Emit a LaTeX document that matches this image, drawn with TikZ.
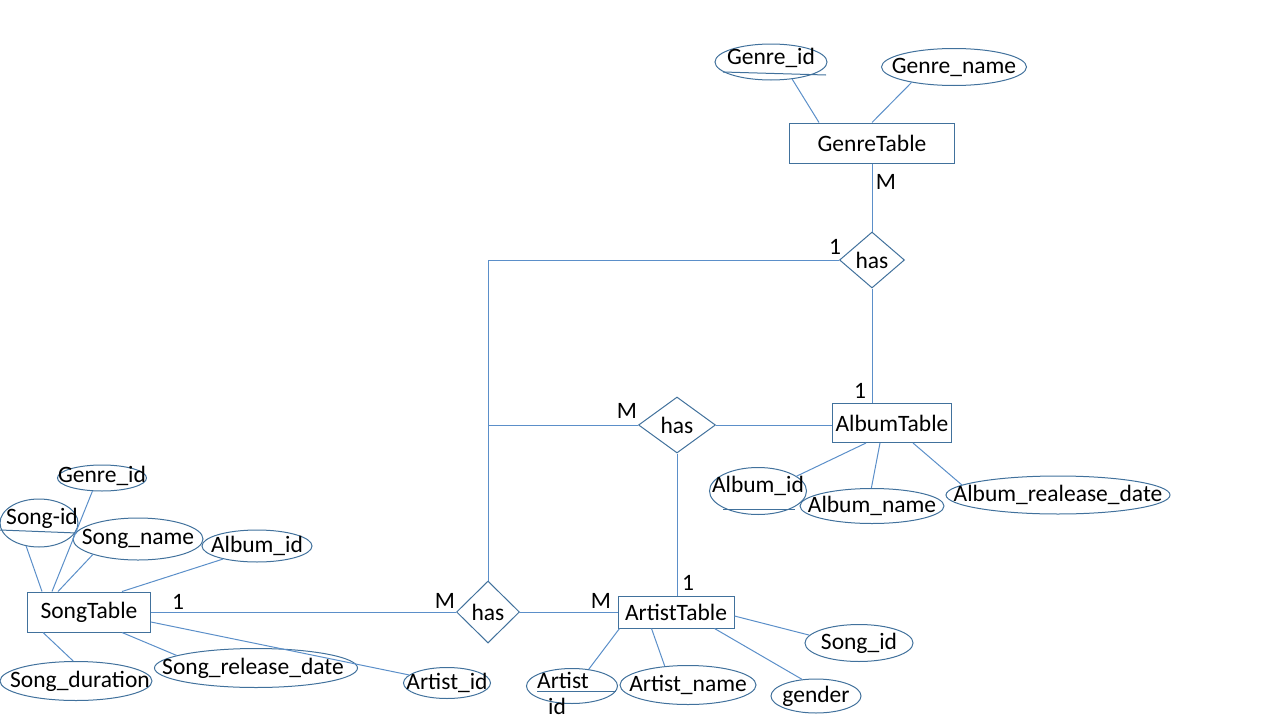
\documentclass[tikz,border=0pt]{standalone}
\usepackage{fontspec}
\setmainfont{Carlito}
\usetikzlibrary{shapes.geometric,calc}
\definecolor{lineblue}{HTML}{5B8FC9}
\definecolor{shapeblue}{HTML}{41719C}
\begin{document}
\begin{tikzpicture}[x=1pt,y=-1pt,
  every node/.style={font=\fontsize{23.5}{28}\selectfont, text=black},
  ent/.style={draw=shapeblue, line width=1pt, rectangle, inner sep=0pt},
  attr/.style={draw=shapeblue, line width=1pt, ellipse, inner sep=0pt},
  rel/.style={draw=shapeblue, line width=1pt, diamond, inner sep=0pt},
  conn/.style={draw=lineblue, line width=1pt},
  card/.style={inner sep=0pt}]
\useasboundingbox (0,0) rectangle (1280,720);

% ---------- entities ----------
\node[ent, minimum width=165pt, minimum height=40pt] (gt) at (872,143) {GenreTable};
\node[ent, minimum width=119pt, minimum height=39pt] (alt) at (892,423) {AlbumTable};
\node[ent, minimum width=116pt, minimum height=32pt] (at) at (676,612) {ArtistTable};
\node[ent, minimum width=123pt, minimum height=40pt] (st) at (89,612) {SongTable};

% ---------- relationships ----------
\node[rel, minimum width=65pt, minimum height=56pt] (h1) at (872,260) {has};
\node[rel, minimum width=77pt, minimum height=56pt] (h2) at (677,425) {has};
\node[rel, minimum width=63pt, minimum height=62pt] (h3) at (488,612) {has};

% ---------- attributes ----------
\node[attr, minimum width=112pt, minimum height=36pt, label={[yshift=4pt]center:Genre\_id}] (gid) at (771,62) {};
\node[attr, minimum width=145pt, minimum height=37pt, label={center:Genre\_name}] (gn) at (954,67) {};

\node[attr, minimum width=97pt, minimum height=47pt, label={[yshift=5pt]center:Album\_id}] (alid) at (758,491) {};
\node[attr, minimum width=144pt, minimum height=35pt, label={center:Album\_name}] (aln) at (872,506) {};
\node[attr, minimum width=224pt, minimum height=38pt, label={center:Album\_realease\_date}] (ard) at (1058,495) {};

\node[attr, minimum width=108pt, minimum height=37pt, label={center:Song\_id}] (asid) at (859,643) {};
\node[attr, minimum width=90pt, minimum height=34pt, label={center:gender}] (gen) at (816,696) {};
\node[attr, minimum width=136pt, minimum height=39pt, label={center:Artist\_name}] (an) at (688,685) {};
\node[attr, minimum width=91pt, minimum height=35pt] (aid) at (572,686) {};
\node[inner sep=0pt] (aidt1) at (563,680) {Artist};
\node[inner sep=0pt] (aidt2) at (557,706) {id};

\node[attr, minimum width=89pt, minimum height=26pt, label={[yshift=2pt]center:Genre\_id}] (sgid) at (102,478) {};
\node[attr, minimum width=78pt, minimum height=48pt, label={[yshift=5pt,xshift=3pt]center:Song-id}] (sid) at (39,523) {};
\node[attr, minimum width=130pt, minimum height=42pt, label={center:Song\_name}] (sn) at (138,539) {};
\node[attr, minimum width=110pt, minimum height=32pt, label={center:Album\_id}] (said) at (257,546) {};
\node[attr, minimum width=152pt, minimum height=39pt, label={[xshift=4pt]center:Song\_duration}] (sd) at (76,681) {};
\node[attr, minimum width=203pt, minimum height=39pt, label={[xshift=-3pt]center:Song\_release\_date}] (srd) at (256,668) {};
\node[attr, minimum width=87pt, minimum height=31pt, label={center:Artist\_id}] (aids) at (447,683) {};

% key underlines
\draw[draw=shapeblue, line width=1pt] ($(gid.center)+(-48,10)$) -- ($(gid.center)+(55,13)$);
\draw[draw=shapeblue, line width=1pt] ($(sid.center)+(-39,7)$) -- ($(sid.center)+(38,10)$);
\draw[draw=shapeblue, line width=1pt] ($(alid.center)+(-35,18)$) -- ($(alid.center)+(37,18)$);
\draw[draw=shapeblue, line width=1pt] ($(aid.center)+(-35,5)$) -- ($(aid.center)+(44,5)$);

% ---------- relationship connectors ----------
\draw[conn] (gt.south) -- (h1.north);
\draw[conn] (h1.west) -| (h3.north);
\draw[conn] (h1.south) -- (h1.south |- alt.north);
\draw[conn] (h2.west) -- (h2.west -| h3.north);
\draw[conn] (h2.east) -- (h2.east -| alt.west);
\draw[conn] (h2.south) -- (h2.south |- at.north);
\draw[conn] (st.east) -- (h3.west);
\draw[conn] (h3.east) -- (at.west);

% ---------- attribute connectors ----------
\draw[conn] ($(gt.north west)+(30,0)$) -- (gid.-39);
\draw[conn] ($(gt.north west)+(83,0)$) -- (gn.200);

\draw[conn] ($(alt.south west)+(34,0)$) -- (alid.21);
\draw[conn] ($(alt.south west)+(48,0)$) -- (aln.92);
\draw[conn] ($(alt.south west)+(81,0)$) -- (ard.174);

\draw[conn] ($(at.east)+(0,4)$) -- (asid.171);
\draw[conn] ($(at.south west)+(97,0)$) -- (gen.130);
\draw[conn] ($(at.south west)+(34,0)$) -- (an.141);
\draw[conn] ($(at.south west)+(2,0)$) -- (aid.45);

\draw[conn] ($(st.north west)+(25,0)$) -- (sgid.234);
\draw[conn] ($(st.north west)+(15,0)$) -- (sid.241);
\draw[conn] ($(st.north west)+(31,0)$) -- (sn.199);
\draw[conn] ($(st.north west)+(95,0)$) -- (said.201);
\draw[conn] ($(st.south west)+(16,0)$) -- (sd.98);
\draw[conn] ($(st.south west)+(95,0)$) -- (srd.171);
\draw[conn] ($(st.east)+(0,10)$) -- (aids.168);

% ---------- cardinalities ----------
\node[card] (c1) at (886,182) {M};
\node[card] (c2) at (835,247) {1};
\node[card] (c3) at (860,391) {1};
\node[card] (c4) at (627,411) {M};
\node[card] (c5) at (688,583) {1};
\node[card] (c6) at (601,601) {M};
\node[card] (c7) at (445,601) {M};
\node[card] (c8) at (178,602) {1};
\end{tikzpicture}
\end{document}
